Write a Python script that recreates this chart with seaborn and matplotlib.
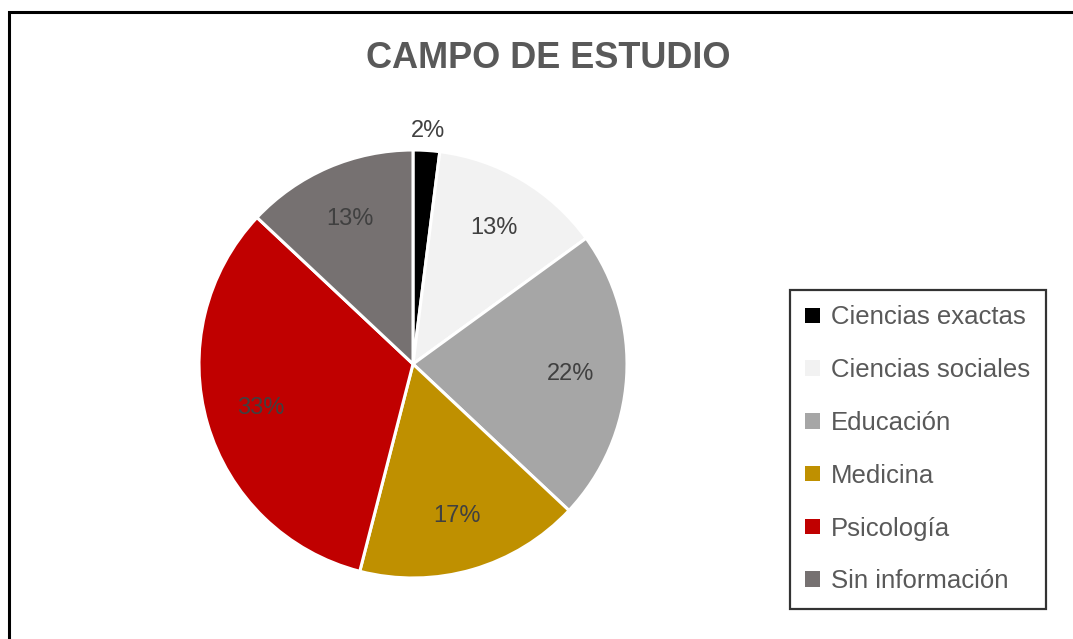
import matplotlib
matplotlib.use("Agg")
import matplotlib.pyplot as plt
import matplotlib.patches as mpatches
import seaborn as sns
import numpy as np

# ==============================
# DATA
# ==============================

categories = [
    "Ciencias exactas",
    "Ciencias sociales",
    "Educación",
    "Medicina",
    "Psicología",
    "Sin información",
]

values = [2, 13, 22, 17, 33, 13]

colors = ["#000000", "#f2f2f2", "#a6a6a6", "#bf9000", "#c00000", "#767171"]

title = "CAMPO DE ESTUDIO"


# ==============================
# STYLE
# ==============================

sns.set_style("white")
plt.rcParams["font.family"] = ["Liberation Sans Narrow", "Liberation Sans", "DejaVu Sans"]

W, H = 1073, 639
fig = plt.figure(figsize=(W / 100, H / 100), dpi=100)
fig.patch.set_facecolor("white")

# pie centre / radius in pixels
cx, cy, R = 413, 364, 214
ax = fig.add_axes([(cx - R) / W, (H - cy - R) / H, 2 * R / W, 2 * R / H])

wedges, texts, autotexts = ax.pie(
    values,
    colors=colors,
    startangle=90,
    counterclock=False,
    autopct="%1.0f%%",
    pctdistance=0.74,
    wedgeprops=dict(edgecolor="white", linewidth=2.2),
    textprops=dict(color="#404040", fontsize=17),
)

ax.set_xlim(-1, 1)
ax.set_ylim(-1, 1)
ax.set_aspect("equal")
ax.axis("off")

# small slice label goes outside
w0 = wedges[0]
ang = np.deg2rad((w0.theta1 + w0.theta2) / 2)
autotexts[0].set_position((1.09 * np.cos(ang), 1.09 * np.sin(ang)))


# ==============================
# TITLE
# ==============================

fig.text(548 / W, 1 - 58 / H, title, ha="center", va="center",
         fontsize=26, fontweight="bold", color="#595959")


# ==============================
# LEGEND
# ==============================

handles = [
    mpatches.Patch(facecolor=c, edgecolor="none", label=l)
    for c, l in zip(colors, categories)
]

leg = fig.legend(
    handles=handles,
    loc="upper left",
    bbox_to_anchor=(790 / W, 1 - 290 / H),
    frameon=True,
    fancybox=False,
    fontsize=18.5,
    handlelength=0.55,
    handleheight=0.55,
    handletextpad=0.45,
    labelspacing=1.12,
    borderpad=0.6,
    borderaxespad=0,
)
leg.get_frame().set_edgecolor("black")
leg.get_frame().set_linewidth(1.6)
for t in leg.get_texts():
    t.set_color("#595959")


# ==============================
# OUTER FRAME
# ==============================

frame = mpatches.Rectangle(
    (9 / W, -0.1), 2, 1 - 12 / H + 0.1,
    transform=fig.transFigure, fill=False,
    edgecolor="black", linewidth=2.2,
)
fig.patches.append(frame)

fig.savefig("out.png", dpi=100)
